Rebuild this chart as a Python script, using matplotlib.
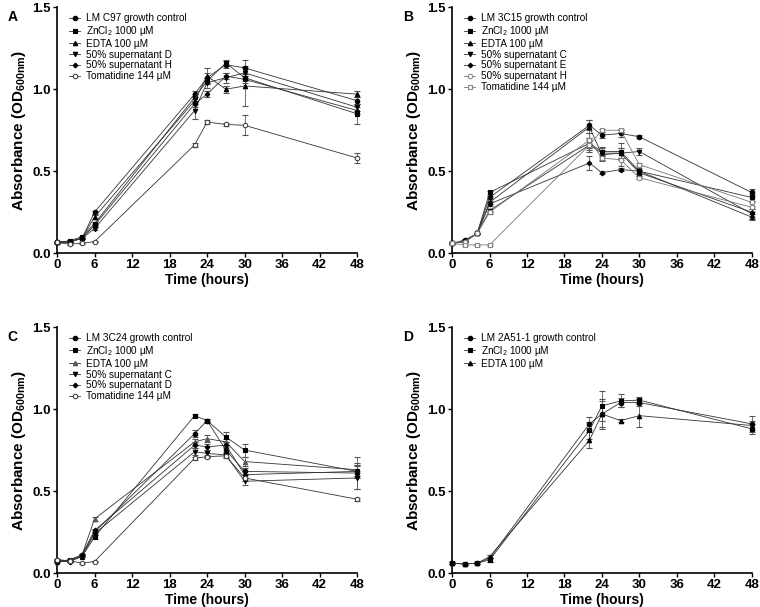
import numpy as np
import matplotlib
matplotlib.use("Agg")
import matplotlib.pyplot as plt
from matplotlib.lines import Line2D

plt.rcParams['font.family'] = 'Liberation Sans'
plt.rcParams['mathtext.fontset'] = 'custom'
plt.rcParams['mathtext.rm'] = 'Liberation Sans'
plt.rcParams['mathtext.bf'] = 'Liberation Sans:bold'

# sampling times (hours)
hours = [0, 2, 4, 6, 22, 24, 27, 30, 48]

# panel A : LM C97
a_labels = ["LM C97 growth control", "ZnCl$_2$ 1000 µM", "EDTA 100 µM",
            "50% supernatant D", "50% supernatant H", "Tomatidine 144 µM"]
a_vals = [
    [0.065, 0.070, 0.090, 0.25, 0.97, 1.07, 1.15, 1.13, 0.93],
    [0.065, 0.075, 0.100, 0.18, 0.95, 1.05, 1.16, 1.07, 0.85],
    [0.070, 0.070, 0.090, 0.22, 0.93, 1.08, 1.00, 1.02, 0.97],
    [0.060, 0.070, 0.090, 0.15, 0.87, 1.04, 1.07, 1.10, 0.89],
    [0.065, 0.070, 0.090, 0.17, 0.91, 0.97, 1.08, 1.06, 0.87],
    [0.065, 0.055, 0.060, 0.07, 0.66, 0.80, 0.785, 0.78, 0.58],
]
a_err = [
    [0.005, 0.005, 0.005, 0.01, 0.02, 0.03, 0.02, 0.05, 0.02],
    [0.005, 0.005, 0.005, 0.01, 0.02, 0.02, 0.02, 0.02, 0.06],
    [0.005, 0.005, 0.005, 0.01, 0.02, 0.05, 0.02, 0.12, 0.02],
    [0.005, 0.005, 0.005, 0.01, 0.05, 0.03, 0.03, 0.03, 0.02],
    [0.005, 0.005, 0.005, 0.01, 0.02, 0.02, 0.02, 0.02, 0.02],
    [0.005, 0.005, 0.005, 0.005, 0.01, 0.01, 0.01, 0.06, 0.03],
]

# panel B : LM 3C15
b_labels = ["LM 3C15 growth control", "ZnCl$_2$ 1000 µM", "EDTA 100 µM",
            "50% supernatant C", "50% supernatant E", "50% supernatant H",
            "Tomatidine 144 µM"]
b_vals = [
    [0.06, 0.08, 0.12, 0.34, 0.78, 0.72, 0.73, 0.71, 0.37],
    [0.06, 0.07, 0.12, 0.37, 0.67, 0.62, 0.62, 0.50, 0.34],
    [0.06, 0.07, 0.12, 0.31, 0.77, 0.60, 0.61, 0.49, 0.25],
    [0.06, 0.07, 0.12, 0.26, 0.66, 0.61, 0.61, 0.62, 0.24],
    [0.06, 0.07, 0.12, 0.30, 0.55, 0.49, 0.51, 0.50, 0.22],
    [0.06, 0.07, 0.12, 0.25, 0.69, 0.58, 0.57, 0.46, 0.28],
    [0.06, 0.05, 0.05, 0.05, 0.66, 0.75, 0.75, 0.54, 0.31],
]
b_err = [
    [0.005, 0.005, 0.005, 0.01, 0.03, 0.02, 0.02, 0.01, 0.02],
    [0.005, 0.005, 0.005, 0.01, 0.03, 0.03, 0.05, 0.02, 0.02],
    [0.005, 0.005, 0.005, 0.01, 0.04, 0.03, 0.03, 0.02, 0.04],
    [0.005, 0.005, 0.005, 0.01, 0.04, 0.03, 0.03, 0.02, 0.03],
    [0.005, 0.005, 0.005, 0.01, 0.04, 0.01, 0.01, 0.01, 0.02],
    [0.005, 0.005, 0.005, 0.01, 0.04, 0.02, 0.04, 0.01, 0.03],
    [0.005, 0.005, 0.005, 0.005, 0.03, 0.01, 0.01, 0.01, 0.04],
]

# panel C : LM 3C24
c_labels = ["LM 3C24 growth control", "ZnCl$_2$ 1000 µM", "EDTA 100 µM",
            "50% supernatant C", "50% supernatant D", "Tomatidine 144 µM"]
c_vals = [
    [0.08, 0.075, 0.11, 0.25, 0.85, 0.93, 0.75, 0.62, 0.61],
    [0.07, 0.080, 0.10, 0.22, 0.96, 0.93, 0.83, 0.75, 0.62],
    [0.07, 0.080, 0.11, 0.33, 0.80, 0.82, 0.80, 0.68, 0.63],
    [0.07, 0.070, 0.10, 0.24, 0.74, 0.73, 0.72, 0.56, 0.58],
    [0.07, 0.070, 0.11, 0.26, 0.78, 0.77, 0.78, 0.60, 0.62],
    [0.08, 0.075, 0.06, 0.07, 0.70, 0.71, 0.715, 0.58, 0.45],
]
c_err = [
    [0.005, 0.005, 0.005, 0.01, 0.02, 0.01, 0.02, 0.02, 0.10],
    [0.005, 0.005, 0.005, 0.01, 0.01, 0.01, 0.03, 0.04, 0.04],
    [0.005, 0.005, 0.005, 0.01, 0.02, 0.02, 0.02, 0.03, 0.04],
    [0.005, 0.005, 0.005, 0.01, 0.02, 0.02, 0.02, 0.02, 0.07],
    [0.005, 0.005, 0.005, 0.01, 0.02, 0.02, 0.02, 0.02, 0.04],
    [0.005, 0.005, 0.005, 0.005, 0.01, 0.01, 0.01, 0.02, 0.01],
]

# panel D : LM 2A51-1
d_labels = ["LM 2A51-1 growth control", "ZnCl$_2$ 1000 µM", "EDTA 100 µM"]
d_vals = [
    [0.06, 0.055, 0.06, 0.09, 0.91, 0.97, 1.04, 1.04, 0.91],
    [0.06, 0.055, 0.06, 0.08, 0.87, 1.02, 1.05, 1.055, 0.88],
    [0.06, 0.055, 0.06, 0.10, 0.81, 0.97, 0.93, 0.96, 0.90],
]
d_err = [
    [0.005, 0.005, 0.005, 0.02, 0.04, 0.09, 0.03, 0.02, 0.05],
    [0.005, 0.005, 0.005, 0.01, 0.05, 0.09, 0.04, 0.02, 0.03],
    [0.005, 0.005, 0.005, 0.01, 0.05, 0.08, 0.01, 0.07, 0.03],
]

# marker styles (marker, face colour, edge colour)
style_a = [("o", "k", "k"), ("s", "k", "k"), ("^", "k", "k"),
           ("v", "k", "k"), ("D", "k", "k"), ("o", "white", "#444")]
style_b = [("o", "k", "k"), ("s", "k", "k"), ("^", "k", "k"),
           ("v", "k", "k"), ("D", "k", "k"), ("o", "white", "#888"),
           ("s", "white", "#888")]
style_c = [("o", "k", "k"), ("s", "k", "k"), ("^", "#555", "#555"),
           ("v", "k", "k"), ("D", "k", "k"), ("o", "white", "#444")]
style_d = [("o", "k", "k"), ("s", "k", "k"), ("^", "k", "k")]

fig = plt.figure(figsize=(7.6, 6.07), dpi=100)
ax_a = fig.add_axes([0.075, 0.583, 0.395, 0.405])
ax_b = fig.add_axes([0.595, 0.583, 0.394, 0.405])
ax_c = fig.add_axes([0.075, 0.056, 0.395, 0.405])
ax_d = fig.add_axes([0.595, 0.056, 0.394, 0.405])

panels = [
    (ax_a, "A", a_labels, a_vals, a_err, style_a),
    (ax_b, "B", b_labels, b_vals, b_err, style_b),
    (ax_c, "C", c_labels, c_vals, c_err, style_c),
    (ax_d, "D", d_labels, d_vals, d_err, style_d),
]

for ax, letter, labels, vals, errs, styles in panels:
    handles = []
    for lab, v, e, (m, fc, ec) in zip(labels, vals, errs, styles):
        ms = 2.4 if m == "D" else 3.2
        lc = "#777" if ec == "#888" else "#333"
        ax.errorbar(hours, v, yerr=e, color=lc, lw=0.6, marker=m, ms=ms,
                    mfc=fc, mec=ec, mew=0.8, ecolor="#555", elinewidth=0.6,
                    capsize=2, capthick=0.6, clip_on=False, zorder=3)
        handles.append(Line2D([], [], color=lc, lw=0.6, marker=m, ms=ms,
                              mfc=fc, mec=ec, mew=0.8, label=lab))
    ax.set_xlim(0, 48)
    ax.set_ylim(0, 1.5)
    ax.set_xticks(np.arange(0, 49, 6))
    ax.set_yticks([0.0, 0.5, 1.0, 1.5])
    ax.set_yticklabels(["0.0", "0.5", "1.0", "1.5"])
    for s in ["top", "right"]:
        ax.spines[s].set_visible(False)
    ax.spines["left"].set_linewidth(1.2)
    ax.spines["bottom"].set_linewidth(1.2)
    ax.tick_params(length=3, width=1.0, labelsize=9.5, pad=1.5)
    for t in ax.get_xticklabels() + ax.get_yticklabels():
        t.set_fontweight("bold")
    ax.set_xlabel("Time (hours)", fontsize=10, fontweight="bold", labelpad=1)
    ax.set_ylabel(r"Absorbance (OD$_{\mathbf{600nm}}$)", fontsize=11,
                  fontweight="bold", labelpad=3)
    ax.legend(handles=handles, loc="upper left", bbox_to_anchor=(0.02, 1.0),
              frameon=False, fontsize=7.2, handlelength=1.1, handletextpad=0.6,
              labelspacing=0.08, borderaxespad=0.2)
    fig.text(ax.get_position().x0 - 0.065, ax.get_position().y1 - 0.005, letter,
             fontsize=10, fontweight="bold", ha="left", va="top")

fig.savefig("out.png", dpi=100)
